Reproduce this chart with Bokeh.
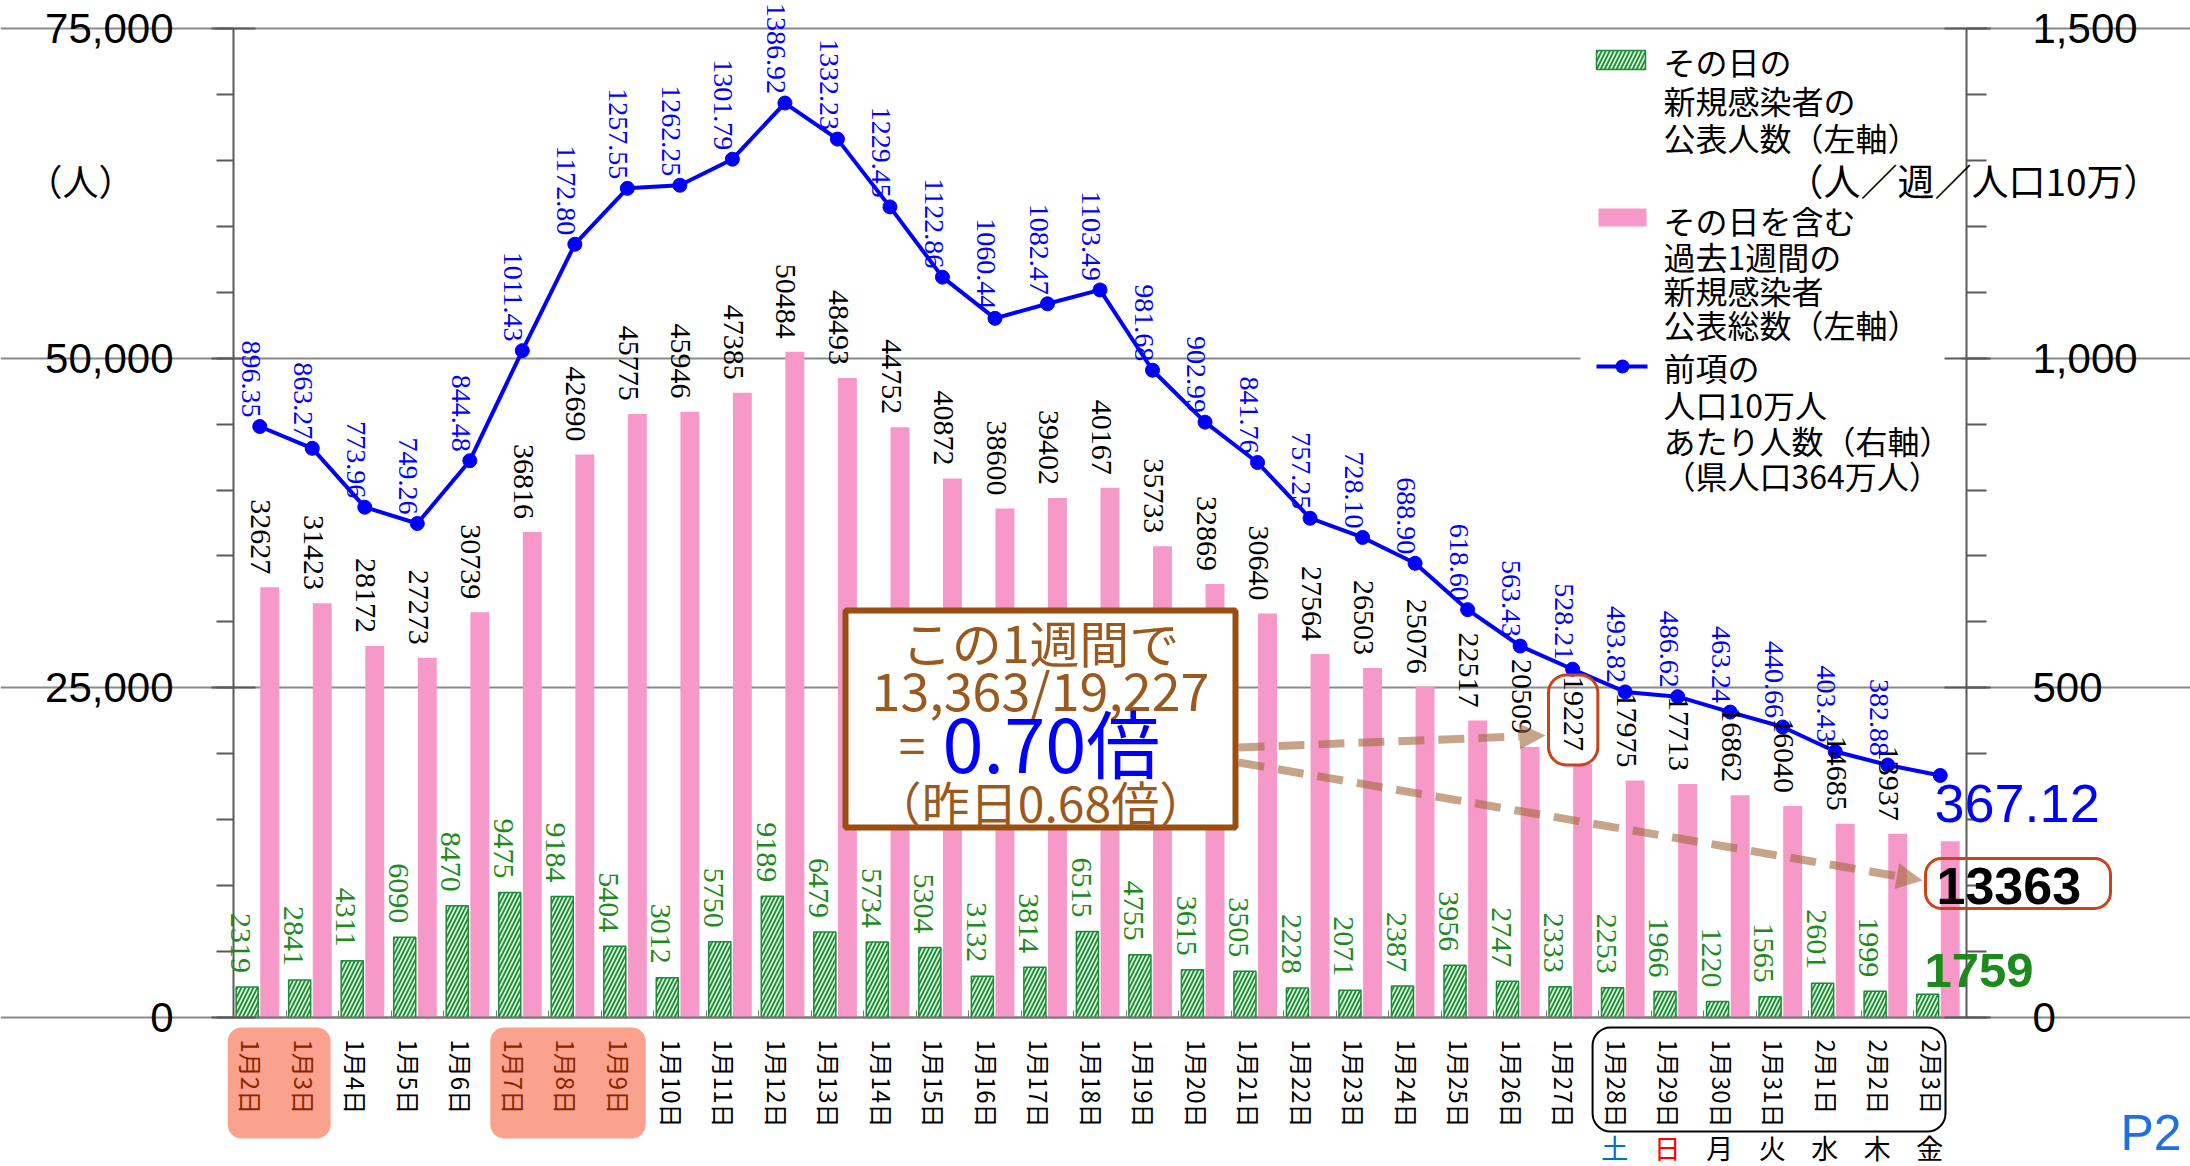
import math
from bokeh.plotting import figure
from bokeh.models import (ColumnDataSource, Range1d, LinearAxis, FixedTicker, NumeralTickFormatter,
                          CustomJSTickFormatter, LabelSet, Label, BoxAnnotation, Arrow, NormalHead)
from bokeh.transform import dodge
from bokeh.core.properties import value
from bokeh.embed import file_html
from bokeh.resources import INLINE

# ---------------- data ----------------
dates = ["1月2日", "1月3日", "1月4日", "1月5日", "1月6日", "1月7日", "1月8日", "1月9日", "1月10日",
         "1月11日", "1月12日", "1月13日", "1月14日", "1月15日", "1月16日", "1月17日", "1月18日",
         "1月19日", "1月20日", "1月21日", "1月22日", "1月23日", "1月24日", "1月25日", "1月26日",
         "1月27日", "1月28日", "1月29日", "1月30日", "1月31日", "2月1日", "2月2日", "2月3日"]
daily_new = [2319, 2841, 4311, 6090, 8470, 9475, 9184, 5404, 3012, 5750, 9189, 6479, 5734, 5304,
             3132, 3814, 6515, 4755, 3615, 3505, 2228, 2071, 2387, 3956, 2747, 2333, 2253, 1966,
             1220, 1565, 2601, 1999, 1759]
weekly_total = [32627, 31423, 28172, 27273, 30739, 36816, 42690, 45775, 45946, 47385, 50484, 48493,
                44752, 40872, 38600, 39402, 40167, 35733, 32869, 30640, 27564, 26503, 25076, 22517,
                20509, 19227, 17975, 17713, 16862, 16040, 14685, 13937, 13363]
per_100k = [896.35, 863.27, 773.96, 749.26, 844.48, 1011.43, 1172.80, 1257.55, 1262.25, 1301.79,
            1386.92, 1332.23, 1229.45, 1122.86, 1060.44, 1082.47, 1103.49, 981.68, 902.99, 841.76,
            757.25, 728.10, 688.90, 618.60, 563.43, 528.21, 493.82, 486.62, 463.24, 440.66, 403.43,
            382.88, 367.12]
holiday_dates = ["1月2日", "1月3日", "1月7日", "1月8日", "1月9日"]
weekday_names = ["土", "日", "月", "火", "水", "木", "金"]
left_ticks = [0, 25000, 50000, 75000]
right_ticks = [0, 500, 1000, 1500]
legend_daily = ["その日の", "新規感染者の", "公表人数（左軸）"]
legend_weekly = ["その日を含む", "過去1週間の", "新規感染者", "公表総数（左軸）"]
legend_rate = ["前項の", "人口10万人", "あたり人数（右軸）", "（県人口364万人）"]
left_unit = "（人）"
right_unit = "（人／週／人口10万）"
page_tag = "P2"

# ---------------- geometry / style ----------------
n = len(dates)
YMAX, RMAX = 75000, 1500
W, H = 2190, 1166
L, R, T, B = 233, 1966, 28, 1017   # data-area edges in page pixels


def X(px):
    return (px - L) / (R - L) * n - 0.5


def Y(py):
    return (B - py) / (B - T) * YMAX


NUM_S = "Liberation Sans"
JP_S = "Noto Sans CJK JP"
NARROW = value("Liberation Sans Narrow")
JP = value(JP_S)
GREEN_FILL, GREEN_LINE = "#D8F6D8", "#1F8A3A"
PINK = "#F799C8"
BLUE = "#0000FF"
GREEN_TXT = "#1E8A1E"
BROWN = "#9A5A1E"
AXIS_C = "#5A5A5A"
R_SCALE = RMAX / YMAX

# frame covers the whole canvas; axes are pinned with fixed_location
p = figure(width=W, height=H,
           x_range=Range1d(X(0), X(W)), y_range=Range1d(Y(H), Y(0)),
           output_backend="svg", toolbar_location=None, title=None, min_border=0,
           background_fill_color="white", border_fill_color="white", outline_line_color=None)
p.extra_y_ranges = {"right": Range1d(Y(H) * R_SCALE, Y(0) * R_SCALE)}

# left axis
ly = p.yaxis[0]
ly.fixed_location = -0.5
ly.bounds = (0, YMAX)
ly.ticker = FixedTicker(ticks=left_ticks, minor_ticks=list(range(0, YMAX + 1, 5000)))
ly.formatter = NumeralTickFormatter(format="0,0")
ly.major_label_text_font = NUM_S
ly.major_label_text_font_size = "42px"
ly.major_label_text_color = "black"
ly.major_label_standoff = 38
ly.axis_line_color = AXIS_C
ly.axis_line_width = 2
ly.major_tick_line_color = AXIS_C
ly.major_tick_line_width = 2
ly.major_tick_in = 22
ly.major_tick_out = 22
ly.minor_tick_line_color = AXIS_C
ly.minor_tick_line_width = 2
ly.minor_tick_in = 0
ly.minor_tick_out = 17

# right axis
ry = LinearAxis(y_range_name="right", fixed_location=n - 0.5, bounds=(0, RMAX),
                ticker=FixedTicker(ticks=right_ticks, minor_ticks=list(range(0, RMAX + 1, 100))),
                formatter=NumeralTickFormatter(format="0,0"))
ry.major_label_text_font = NUM_S
ry.major_label_text_font_size = "42px"
ry.major_label_text_color = "black"
ry.major_label_standoff = 42
ry.axis_line_color = AXIS_C
ry.axis_line_width = 2
ry.major_tick_line_color = AXIS_C
ry.major_tick_line_width = 2
ry.major_tick_in = 22
ry.major_tick_out = 24
ry.minor_tick_line_color = AXIS_C
ry.minor_tick_line_width = 2
ry.minor_tick_in = 0
ry.minor_tick_out = 20
p.add_layout(ry, "right")

# bottom axis: small ticks between day groups, labels drawn separately
bx = p.xaxis[0]
bx.fixed_location = 0
bx.bounds = (-0.5, n - 0.5)
bx.ticker = FixedTicker(ticks=[i + 0.5 for i in range(n - 1)], minor_ticks=[])
bx.formatter = CustomJSTickFormatter(code="return ''")
bx.axis_line_color = "#777777"
bx.axis_line_width = 2
bx.major_tick_line_color = "#777777"
bx.major_tick_in = 7
bx.major_tick_out = 0
bx.minor_tick_line_color = None

p.xgrid.visible = False
p.ygrid[0].ticker = FixedTicker(ticks=left_ticks)
p.ygrid[0].bounds = (-0.5, n - 0.5)
p.ygrid.grid_line_color = "#8A8A8A"
p.ygrid.grid_line_width = 2

# legend white backdrop (under the bars, over the grid)
p.add_layout(BoxAnnotation(left=X(1580), right=X(1961), top=Y(36), bottom=Y(500),
                           fill_color="white", fill_alpha=1, line_color=None, level="underlay"))

# ---------------- bars & line ----------------
src = ColumnDataSource(dict(x=list(range(n)), daily=daily_new, weekly=weekly_total, rate=per_100k))
p.vbar(x=dodge("x", -0.24), top="daily", width=0.42, source=src,
       fill_color=GREEN_FILL, line_color=GREEN_LINE, line_width=1.5,
       hatch_pattern="/", hatch_color=GREEN_LINE, hatch_weight=1.8, hatch_scale=8)
p.vbar(x=dodge("x", 0.19), top="weekly", width=0.36, source=src, fill_color=PINK, line_color=None)
p.line("x", "rate", source=src, y_range_name="right", line_color=BLUE, line_width=4)
p.scatter("x", "rate", source=src, y_range_name="right", size=14, fill_color=BLUE, line_color=BLUE)

# ---------------- value labels (all but the last day) ----------------
lab = ColumnDataSource(dict(
    x=list(range(n - 1)),
    daily=daily_new[:-1], weekly=weekly_total[:-1], rate=per_100k[:-1],
    daily_s=[str(v) for v in daily_new[:-1]],
    weekly_s=[str(v) for v in weekly_total[:-1]],
    rate_s=[f"{v:.2f}" for v in per_100k[:-1]],
))
rot = -math.pi / 2
p.add_layout(LabelSet(x=dodge("x", -0.36), y="daily", text="daily_s", source=lab, angle=rot,
                      text_align="right", text_baseline="middle", y_offset=14,
                      text_font=NARROW, text_font_size="30px", text_color=GREEN_TXT))
p.add_layout(LabelSet(x=dodge("x", 0.02), y="weekly", text="weekly_s", source=lab, angle=rot,
                      text_align="right", text_baseline="middle", y_offset=13,
                      text_font=NARROW, text_font_size="30px", text_color="black"))
p.add_layout(LabelSet(x=dodge("x", -0.17), y="rate", text="rate_s", source=lab, angle=rot,
                      y_range_name="right", text_align="right", text_baseline="middle", y_offset=9,
                      text_font=NARROW, text_font_size="28px", text_color=BLUE))

# ---------------- date labels with highlight boxes ----------------
hol_idx = [dates.index(d) for d in holiday_dates]
runs = []
for i in hol_idx:
    if runs and i == runs[-1][-1] + 1:
        runs[-1].append(i)
    else:
        runs.append([i])
for run in runs:
    p.add_layout(BoxAnnotation(left=run[0] - 0.61, right=run[-1] + 0.35, top=Y(1027), bottom=Y(1138),
                               fill_color="#FAA28E", fill_alpha=1, line_color=None, border_radius=14))
p.add_layout(BoxAnnotation(left=(n - 7) - 0.62, right=(n - 1) + 0.1, top=Y(1027), bottom=Y(1131),
                           fill_color=None, line_color="black", line_alpha=1, line_width=2,
                           border_radius=18))

date_src = ColumnDataSource(dict(
    x=list(range(n)), y=[0] * n, text=dates,
    color=["#8B2500" if d in holiday_dates else "black" for d in dates]))
p.add_layout(LabelSet(x=dodge("x", -0.15), y="y", text="text", source=date_src, angle=rot,
                      text_align="left", text_baseline="middle", y_offset=-22,
                      text_font=JP, text_font_size="24px", text_color="color"))

wk_colors = ["#0070C0", "#FF0000", "black", "black", "black", "black", "black"]
wk_src = ColumnDataSource(dict(x=list(range(n - 7, n)), y=[Y(1147)] * 7, text=weekday_names,
                               color=wk_colors))
p.add_layout(LabelSet(x=dodge("x", -0.2), y="y", text="text", source=wk_src,
                      text_align="center", text_baseline="middle",
                      text_font=JP, text_font_size="27px", text_color="color"))

# ---------------- legend ----------------
p.add_layout(BoxAnnotation(left=X(1596), right=X(1645), top=Y(50), bottom=Y(69),
                           fill_color=GREEN_FILL, fill_alpha=1, line_color=GREEN_LINE, line_alpha=1,
                           line_width=1.5, hatch_pattern="/", hatch_color=GREEN_LINE,
                           hatch_weight=1.8, hatch_scale=8))
p.add_layout(BoxAnnotation(left=X(1598), right=X(1646), top=Y(208), bottom=Y(226),
                           fill_color=PINK, fill_alpha=1, line_color=None))
p.add_layout(Arrow(end=None, x_start=X(1596), y_start=Y(366), x_end=X(1647), y_end=Y(366),
                   line_color=BLUE, line_width=4))
p.add_layout(BoxAnnotation(left=X(1615), right=X(1629), top=Y(359), bottom=Y(373),
                           fill_color=BLUE, fill_alpha=1, line_color=None, border_radius=7))
for lines, tops in ((legend_daily, [60, 99, 136]), (legend_weekly, [219, 255, 289, 323]),
                    (legend_rate, [366, 403, 439, 474])):
    for txt, py in zip(lines, tops):
        p.add_layout(Label(x=X(1663), y=Y(py), text=txt, text_align="left", text_baseline="middle",
                           text_font=JP_S, text_font_size="32px", text_color="black"))

p.add_layout(Label(x=X(1786), y=Y(179), text=right_unit, text_align="left", text_baseline="middle",
                   text_font=JP_S, text_font_size="37px", text_color="black"))
p.add_layout(Label(x=X(80), y=Y(179), text=left_unit, text_align="center", text_baseline="middle",
                   text_font=JP_S, text_font_size="36px", text_color="black"))

# ---------------- callouts ----------------
idx_prev = n - 8
ratio = weekly_total[-1] / weekly_total[idx_prev]
ratio_prev = weekly_total[-2] / weekly_total[-9]

# box around the value one week earlier
px_per_val = (B - T) / YMAX
p.add_layout(BoxAnnotation(left=idx_prev - 0.46, right=idx_prev + 0.48,
                           bottom=weekly_total[idx_prev] - 1 / px_per_val,
                           top=weekly_total[idx_prev] + 89 / px_per_val,
                           fill_color=None, line_color="#C8441C", line_alpha=1, line_width=3,
                           border_radius=18))

# summary box
p.add_layout(BoxAnnotation(left=X(845), right=X(1235), top=Y(610), bottom=Y(827),
                           fill_color="white", fill_alpha=1, line_color="#9B4E12", line_alpha=1,
                           line_width=6))
p.add_layout(Label(x=X(1040), y=Y(640), text="この1週間で", text_align="center", text_baseline="middle",
                   text_font=JP_S, text_font_size="50px", text_color=BROWN))
p.add_layout(Label(x=X(1040), y=Y(688),
                   text=f"{weekly_total[-1]:,}/{weekly_total[idx_prev]:,}",
                   text_align="center", text_baseline="middle",
                   text_font=JP_S, text_font_size="52px", text_color=BROWN))
p.add_layout(Label(x=X(925), y=Y(742), text="=", text_align="right", text_baseline="middle",
                   text_font=JP_S, text_font_size="48px", text_color=BROWN))
p.add_layout(Label(x=X(942), y=Y(740), text=f"{ratio:.2f}倍", text_align="left", text_baseline="middle",
                   text_font=JP_S, text_font_size="74px", text_color=BLUE))
p.add_layout(Label(x=X(1040), y=Y(800), text=f"（昨日{ratio_prev:.2f}倍）", text_align="center",
                   text_baseline="middle", text_font=JP_S, text_font_size="48px", text_color=BROWN))

ARROW_C = "#A0673C"
for (x0, y0, x1, y1) in ((1238, 747, 1545, 735), (1238, 762, 1922, 880)):
    p.add_layout(Arrow(end=NormalHead(size=26, fill_color=ARROW_C, fill_alpha=0.6, line_color=None),
                       x_start=X(x0), y_start=Y(y0), x_end=X(x1), y_end=Y(y1),
                       line_color=ARROW_C, line_alpha=0.6, line_width=8, line_dash="26 14"))

# last-day values
p.add_layout(Label(x=X(1934), y=per_100k[-1], y_range_name="right", y_offset=-28,
                   text=f"{per_100k[-1]:.2f}", text_align="left", text_baseline="middle",
                   text_font=NUM_S, text_font_size="54px", text_color=BLUE))
p.add_layout(BoxAnnotation(left=X(1925), right=X(2110), top=Y(858), bottom=Y(908),
                           fill_color=None, line_color="#C8441C", line_alpha=1, line_width=3,
                           border_radius=16))
p.add_layout(Label(x=X(1936), y=Y(885), text=str(weekly_total[-1]), text_align="left",
                   text_baseline="middle", text_font=NUM_S, text_font_size="52px",
                   text_font_style="bold", text_color="black"))
p.add_layout(Label(x=X(1924), y=Y(970), text=str(daily_new[-1]), text_align="left",
                   text_baseline="middle", text_font=NUM_S, text_font_size="49px",
                   text_font_style="bold", text_color=GREEN_TXT))

p.add_layout(Label(x=X(2120), y=Y(1132), text=page_tag, text_align="left", text_baseline="middle",
                   text_font=NUM_S, text_font_size="50px", text_color="#1F6FE5"))

open("out.html", "w").write(file_html(p, INLINE))
